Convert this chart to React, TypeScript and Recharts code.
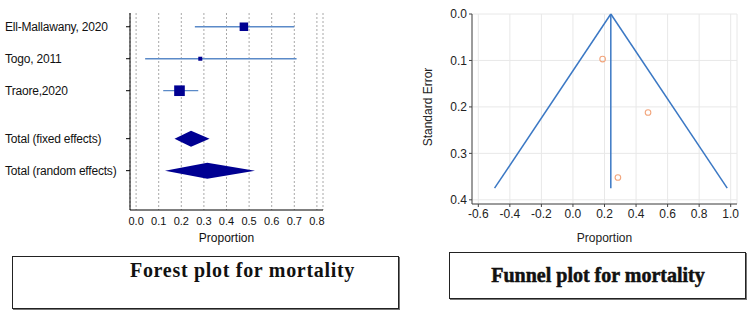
import React from 'react';
import {
  ScatterChart,
  Scatter,
  XAxis,
  YAxis,
  ZAxis,
  CartesianGrid,
  ReferenceLine,
  ReferenceArea,
} from 'recharts';

// ---------- Forest plot data ----------
const studyNames = ['Ell-Mallawany, 2020', 'Togo, 2011', 'Traore,2020'];
const studyRows = [1, 2, 3];
const studyEst = [0.477, 0.284, 0.192];
const studyLow = [0.26, 0.04, 0.12];
const studyHigh = [0.7, 0.71, 0.275];
const studyWeight = [36, 8, 56];

const totalNames = ['Total (fixed effects)', 'Total (random effects)'];
const totalRows = [4.5, 5.5];
const totalEst = [0.243, 0.315];
const totalLow = [0.17, 0.128];
const totalHigh = [0.325, 0.526];

const forestTicks = [0, 0.1, 0.2, 0.3, 0.4, 0.5, 0.6, 0.7, 0.8];
const rowTicks = [...studyRows, ...totalRows];
const rowLabels = [...studyNames, ...totalNames];

// ---------- Funnel plot data ----------
const funnelX = [0.188, 0.476, 0.285];
const funnelSE = [0.097, 0.212, 0.352];
const pooled = 0.24;
const funnelMaxSE = 0.375;
const funnelLeft = -0.497;
const funnelRight = 0.978;
const funnelXTicks = [-0.6, -0.4, -0.2, 0, 0.2, 0.4, 0.6, 0.8, 1.0];
const funnelYTicks = [0, 0.1, 0.2, 0.3, 0.4];

const forestData = studyNames.map((name, i) => ({
  name,
  x: studyEst[i],
  y: studyRows[i],
  w: studyWeight[i],
}));
const funnelData = funnelX.map((x, i) => ({ x, y: funnelSE[i] }));

const NAVY = '#000092';
const CI = '#5b8ac8';
const FUNNEL = '#3b78c4';

const ForestTick = (props: any) => {
  const { y, payload } = props;
  const idx = rowTicks.indexOf(payload.value);
  return (
    <text x={5} y={y} dy={4.3} fontSize={12} letterSpacing={-0.2} fill="#111" textAnchor="start">
      {rowLabels[idx]}
    </text>
  );
};

const squareShape = (p: any) => {
  const s = Math.sqrt(p.size || 16);
  return <rect x={p.cx - s / 2} y={p.cy - s / 2} width={s} height={s} fill={NAVY} />;
};

const diamondShape = (c: number, lo: number, hi: number) => (p: any) => {
  const { x, y, width, height } = p;
  const fx = x + (width * (c - lo)) / (hi - lo);
  return (
    <polygon
      points={`${x},${y + height / 2} ${fx},${y} ${x + width},${y + height / 2} ${fx},${y + height}`}
      fill={NAVY}
    />
  );
};

const circleShape = (p: any) => (
  <circle cx={p.cx} cy={p.cy} r={2.8} fill="none" stroke="#f2a57c" strokeWidth={1.1} />
);

const fmt1 = (v: number) => v.toFixed(1);

export default function App() {
  return (
    <div
      style={{
        position: 'absolute',
        left: 0,
        top: 0,
        width: 752,
        height: 314,
        background: '#fff',
        overflow: 'hidden',
        fontFamily: '"Liberation Sans", Arial, sans-serif',
      }}
    >
      {/* Forest plot */}
      <div style={{ position: 'absolute', left: 0, top: 0 }}>
        <ScatterChart width={340} height={250} margin={{ top: 13, right: 17, bottom: 0, left: 0 }}>
          <CartesianGrid horizontal={false} strokeDasharray="2 2" stroke="#a8a8a8" />
          <XAxis
            type="number"
            dataKey="x"
            domain={[-0.027, 0.827]}
            allowDataOverflow
            ticks={forestTicks}
            tickFormatter={fmt1}
            height={40}
            tickLine={false}
            tickSize={5}
            tickMargin={2}
            axisLine={{ stroke: '#000' }}
            tick={{ fontSize: 11, fill: '#111' }}
            interval={0}
            label={{ value: 'Proportion', position: 'insideBottom', offset: 8, fontSize: 12, fill: '#111' }}
          />
          <YAxis
            type="number"
            dataKey="y"
            domain={[0.57, 6.73]}
            allowDataOverflow
            reversed
            ticks={rowTicks}
            interval={0}
            width={130}
            tickSize={4}
            tickLine={{ stroke: '#000' }}
            axisLine={{ stroke: '#000' }}
            tick={ForestTick}
          />
          <ZAxis type="number" dataKey="w" domain={[0, 60]} range={[0, 121]} />
          {studyNames.map((n, i) => (
            <ReferenceLine
              key={n}
              segment={[
                { x: studyLow[i], y: studyRows[i] },
                { x: studyHigh[i], y: studyRows[i] },
              ]}
              stroke={CI}
              strokeWidth={1.3}
            />
          ))}
          {totalNames.map((n, i) => (
            <ReferenceArea
              key={n}
              x1={totalLow[i]}
              x2={totalHigh[i]}
              y1={totalRows[i] - 0.25}
              y2={totalRows[i] + 0.25}
              shape={diamondShape(totalEst[i], totalLow[i], totalHigh[i])}
            />
          ))}
          <Scatter data={forestData} shape={squareShape} isAnimationActive={false} />
        </ScatterChart>
      </div>

      {/* Funnel plot */}
      <div style={{ position: 'absolute', left: 400, top: 0 }}>
        <ScatterChart width={352} height={250} margin={{ top: 14, right: 15, bottom: 0, left: 0 }}>
          <CartesianGrid stroke="#e8e8e8" />
          <XAxis
            type="number"
            dataKey="x"
            domain={[-0.64, 1.04]}
            allowDataOverflow
            ticks={funnelXTicks}
            tickFormatter={fmt1}
            interval={0}
            height={46}
            tickSize={3}
            tickMargin={2}
            tickLine={{ stroke: '#444' }}
            axisLine={{ stroke: '#444' }}
            tick={{ fontSize: 12, fill: '#222' }}
            label={{ value: 'Proportion', position: 'insideBottom', offset: 8, fontSize: 12, fill: '#222' }}
          />
          <YAxis
            type="number"
            dataKey="y"
            domain={[0, 0.409]}
            allowDataOverflow
            reversed
            ticks={funnelYTicks}
            tickFormatter={fmt1}
            interval={0}
            width={72}
            tickSize={3}
            tickMargin={2}
            tickLine={{ stroke: '#444' }}
            axisLine={{ stroke: '#444' }}
            tick={{ fontSize: 12, fill: '#222' }}
            label={(p: any) => {
              const vb = p.viewBox || { x: 0, y: 14, width: 72, height: 190 };
              const lx = vb.x + 31.5;
              const ly = vb.y + vb.height / 2 - 2;
              return (
                <text
                  x={lx}
                  y={ly}
                  transform={`rotate(-90, ${lx}, ${ly})`}
                  textAnchor="middle"
                  fontSize={12}
                  fill="#222"
                >
                  Standard Error
                </text>
              );
            }}
          />
          <ReferenceLine
            segment={[
              { x: funnelLeft, y: funnelMaxSE },
              { x: pooled, y: 0 },
            ]}
            stroke={FUNNEL}
            strokeWidth={1.5}
          />
          <ReferenceLine
            segment={[
              { x: pooled, y: 0 },
              { x: funnelRight, y: funnelMaxSE },
            ]}
            stroke={FUNNEL}
            strokeWidth={1.5}
          />
          <ReferenceLine
            segment={[
              { x: pooled, y: 0 },
              { x: pooled, y: funnelMaxSE },
            ]}
            stroke={FUNNEL}
            strokeWidth={1.5}
          />
          <Scatter data={funnelData} shape={circleShape} isAnimationActive={false} />
        </ScatterChart>
      </div>

      {/* Caption boxes */}
      <div
        style={{
          position: 'absolute',
          left: 12,
          top: 256,
          width: 385,
          height: 51,
          border: '1.5px solid #222',
          boxShadow: '1px 1px 0 #777',
        }}
      />
      <div
        style={{
          position: 'absolute',
          left: 130,
          top: 260,
          lineHeight: '20px',
          fontSize: 20,
          fontWeight: 'bold',
          letterSpacing: 0.7,
          whiteSpace: 'nowrap',
          color: '#111',
          fontFamily: '"Liberation Serif", "Times New Roman", serif',
        }}
      >
        Forest plot for mortality
      </div>
      <div
        style={{
          position: 'absolute',
          left: 449,
          top: 252,
          width: 295,
          height: 45,
          border: '1.5px solid #222',
          boxShadow: '1px 1px 0 #777',
        }}
      />
      <div
        style={{
          position: 'absolute',
          left: 449,
          top: 265,
          width: 298,
          textAlign: 'center',
          lineHeight: '20px',
          fontSize: 20,
          fontWeight: 'bold',
          letterSpacing: 0,
          whiteSpace: 'nowrap',
          color: '#111',
          WebkitTextStroke: '0.5px #111',
          fontFamily: '"Liberation Serif", "Times New Roman", serif',
        }}
      >
        Funnel plot for mortality
      </div>
    </div>
  );
}
